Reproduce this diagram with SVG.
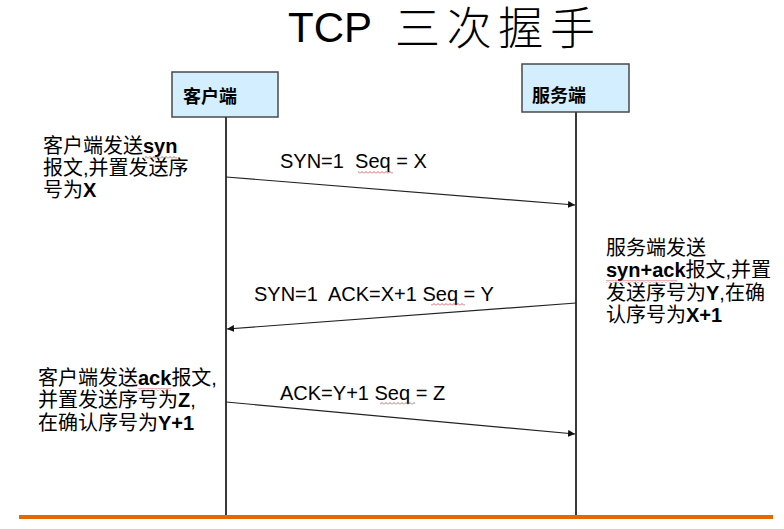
<svg xmlns="http://www.w3.org/2000/svg" width="784" height="529" viewBox="0 0 784 529">
<defs>
<style>
text{font-family:"Liberation Sans","Noto Sans CJK SC",sans-serif;fill:#000}
.t{font-size:20px}
.b{font-weight:bold}
.box{fill:#D2EEFF;stroke:#4a4a4a;stroke-width:1.5}
.life{stroke:#3a3a3a;stroke-width:2;fill:none}
.msg{stroke:#222;stroke-width:1.2;fill:none;marker-end:url(#ah)}
.lbl{font-size:18px;font-weight:bold}
</style>
<marker id="ah" viewBox="0 0 10 10" refX="10" refY="5" markerWidth="7" markerHeight="7" markerUnits="userSpaceOnUse" orient="auto">
<path d="M0,0 L10,5 L0,10 z" fill="#111"/>
</marker>
<pattern id="sq" width="4" height="3" patternUnits="userSpaceOnUse">
<path d="M0,2.5 L2,0.5 L4,2.5" stroke="#c04040" stroke-width="0.8" fill="none"/>
</pattern>
</defs>
<rect width="784" height="529" fill="#fff"/>
<g id="title">
<text x="288" y="42" style="font-size:42px">TCP</text>
<text x="395" y="45" style="font-size:45px;font-family:'Noto Sans CJK SC',sans-serif;font-weight:300" textLength="200" lengthAdjust="spacing">三次握手</text>
</g>
<g id="client">
<rect class="box" x="172" y="72" width="106" height="45"/>
<text class="lbl" x="183" y="103">客户端</text>
<line class="life" x1="226" y1="117" x2="226" y2="515"/>
</g>
<g id="server">
<rect class="box" x="522" y="64" width="107" height="48"/>
<text class="lbl" x="532" y="102">服务端</text>
<line class="life" x1="576" y1="112" x2="576" y2="515"/>
</g>
<g id="connectors">
<line class="msg" x1="226" y1="177" x2="575" y2="205"/>
<line class="msg" x1="576" y1="303" x2="227" y2="329"/>
<line class="msg" x1="226" y1="402" x2="575" y2="434"/>
</g>
<g id="labels">
<text class="t" x="280" y="168" xml:space="preserve">SYN=1  Seq = X</text>
<text class="t" x="254" y="301" xml:space="preserve">SYN=1  ACK=X+1 Seq = Y</text>
<text class="t" x="280" y="400">ACK=Y+1 Seq = Z</text>
</g>
<g id="note-client-syn">
<text class="t" x="43" y="153">客户端发送<tspan class="b">syn</tspan></text>
<text class="t" x="43" y="175">报文,并置发送序</text>
<text class="t" x="43" y="197">号为<tspan class="b">X</tspan></text>
</g>
<g id="note-server">
<text class="t" x="606" y="255">服务端发送</text>
<text class="t" x="606" y="277"><tspan class="b">syn+ack</tspan>报文,并置</text>
<text class="t" x="606" y="300">发送序号为<tspan class="b">Y</tspan>,在确</text>
<text class="t" x="606" y="322">认序号为<tspan class="b">X+1</tspan></text>
</g>
<g id="note-client-ack">
<text class="t" x="38" y="385">客户端发送<tspan class="b">ack</tspan>报文,</text>
<text class="t" x="38" y="407">并置发送序号为<tspan class="b">Z</tspan>,</text>
<text class="t" x="38" y="430">在确认序号为<tspan class="b">Y+1</tspan></text>
</g>
<g id="squiggles">
<rect x="145" y="156" width="32" height="3" fill="url(#sq)"/>
<rect x="606" y="280" width="71" height="3" fill="url(#sq)"/>
<rect x="138" y="388" width="33" height="3" fill="url(#sq)"/>
<rect x="358" y="171" width="35" height="3" fill="url(#sq)"/>
<rect x="431" y="303" width="34" height="3" fill="url(#sq)"/>
<rect x="380" y="402" width="35" height="3" fill="url(#sq)"/>
</g>
<rect x="19" y="515" width="754" height="4" fill="#E06A00"/>
</svg>
